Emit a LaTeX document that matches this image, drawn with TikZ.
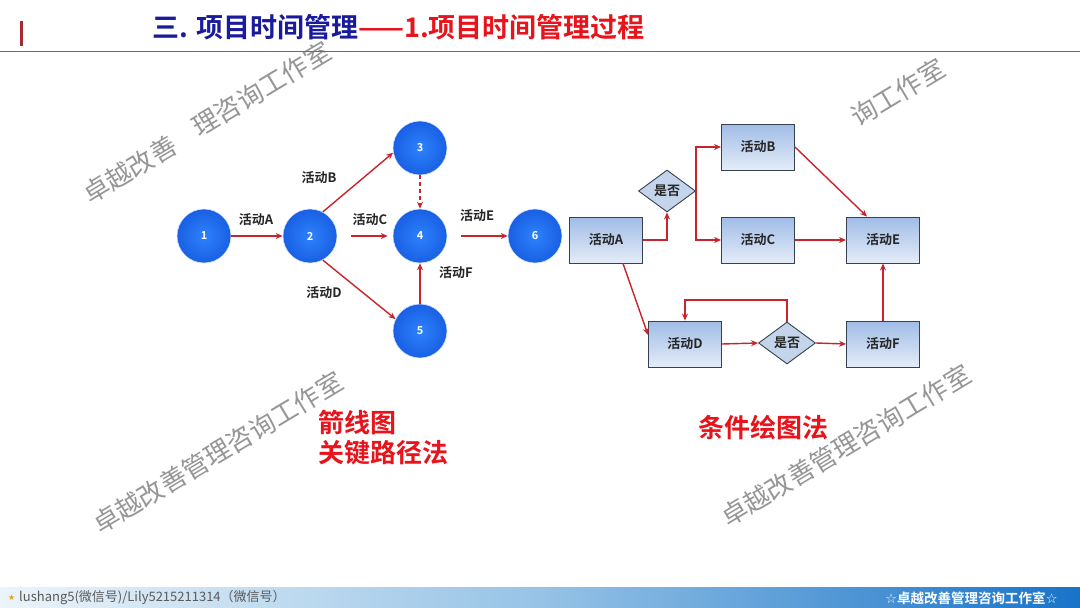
\documentclass[tikz,border=0pt]{standalone}
\usepackage{fontspec}
\setmainfont{Noto Sans CJK SC}[BoldFont={Noto Sans CJK SC Bold}]
\newfontfamily\symfont{DejaVu Sans}
\usetikzlibrary{arrows.meta,shapes.geometric}
\definecolor{titleblue}{RGB}{26,26,156}
\definecolor{titlered}{RGB}{232,20,28}
\definecolor{barred}{RGB}{170,40,50}
\definecolor{linered}{RGB}{170,80,80}
\definecolor{arrred}{RGB}{200,36,44}
\definecolor{circin}{RGB}{45,130,252}
\definecolor{circout}{RGB}{25,95,228}
\definecolor{boxtop}{RGB}{160,188,230}
\definecolor{boxbot}{RGB}{228,236,248}
\definecolor{boxline}{RGB}{55,65,80}
\definecolor{diamfill}{RGB}{196,212,234}
\definecolor{wmgray}{RGB}{150,150,150}
\definecolor{footl}{RGB}{236,244,250}
\definecolor{footm}{RGB}{150,195,230}
\definecolor{footr}{RGB}{25,115,200}
\definecolor{foottext}{RGB}{90,90,90}
\definecolor{starc}{RGB}{225,160,40}
\tikzset{
  ball/.style={circle, minimum size=54pt, inner sep=0pt, inner color=circin, outer color=circout,
    draw=white!80!circin, line width=0.6pt, text=white, font=\bfseries\fontsize{11}{12}\selectfont},
  lbl/.style={font=\bfseries\fontsize{13}{14}\selectfont, text=black!85, inner sep=0pt},
  arr/.style={draw=arrred, line width=1.4pt, -{Stealth[length=7pt,width=6pt]}},
  dasharr/.style={arr, dashed, dash pattern=on 4pt off 3pt},
  actbox/.style={rectangle, minimum width=73pt, minimum height=46pt, inner sep=0pt, draw=boxline,
    line width=0.9pt, top color=boxtop, bottom color=boxbot, font=\bfseries\fontsize{13}{14}\selectfont, text=black!85},
  decide/.style={diamond, minimum width=57pt, minimum height=42pt, inner sep=0pt, draw=boxline,
    line width=0.9pt, fill=diamfill, font=\bfseries\fontsize{13}{14}\selectfont, text=black!85},
  wm/.style={anchor=base west, rotate=31, inner sep=0pt, font=\fontsize{26}{28}\selectfont, text=wmgray},
  bigred/.style={anchor=base west, inner sep=0pt, font=\bfseries\fontsize{26}{28}\selectfont, text=titlered}
}
\begin{document}
\begin{tikzpicture}[x=1pt,y=-1pt]
\useasboundingbox (0,0) rectangle (1080,608);
\fill[white] (0,0) rectangle (1080,608);

% watermarks
\node[wm] (w1) at (90,205) {卓越改善};
\node[wm] (w1b) at (199.5,138) {理咨询工作室};
\node[wm] (w2) at (858,128) {询工作室};
\node[wm] (w3) at (100,535) {卓越改善管理咨询工作室};
\node[wm] (w4) at (728,528) {卓越改善管理咨询工作室};

% header
\fill[barred] (20,21) rectangle (23,46);
\draw[linered, line width=1pt] (0,51) -- (1080,51);
\node[anchor=base west, inner sep=0pt, font=\bfseries\fontsize{27}{29}\selectfont] (title) at (152,37)
  {\textcolor{titleblue}{三. 项目时间管理}\textcolor{titlered}{——1.项目时间管理过程}};

% arrow diagram
\node[ball] (n1) at (204,236) {1};
\node[ball] (n2) at (310,236) {2};
\node[ball] (n3) at (420,148) {3};
\node[ball] (n4) at (420,236) {4};
\node[ball] (n5) at (420,331) {5};
\node[ball] (n6) at (535,236) {6};

\draw[arr] (n1) -- (n2);
\draw[arr] (n2.62) -- (n3.190);
\draw[arr, shorten <=14pt, shorten >=5pt] (n2) -- (n4);
\draw[dasharr] (n3) -- (n4);
\draw[arr] (n2.298) -- (n5.154);
\draw[arr] (n5) -- (n4);
\draw[arr, shorten <=14pt] (n4) -- (n6);

\node[lbl] (la) at (256,220) {活动A};
\node[lbl] (lb) at (319,178) {活动B};
\node[lbl] (lc) at (370,220) {活动C};
\node[lbl] (ld) at (324,293) {活动D};
\node[lbl] (le) at (477,216) {活动E};
\node[lbl] (lf) at (456,273) {活动F};

\node[bigred] (t1) at (318,432) {箭线图};
\node[bigred] (t2) at (318,462) {关键路径法};

% condition diagram
\node[actbox] (A) at (606,240) {活动A};
\node[actbox] (B) at (758,147) {活动B};
\node[actbox] (C) at (758,240) {活动C};
\node[actbox] (E) at (883,240) {活动E};
\node[actbox] (D) at (685,344) {活动D};
\node[actbox] (F) at (883,344) {活动F};
\node[decide] (d1) at (667,191) {是否};
\node[decide] (d2) at (787,343) {是否};
\coordinate (lp) at (685,300);

\draw[arr] (A.east) -| (d1.south);
\draw[arr] (d1.east) |- (B.west);
\draw[arr] (d1.east) |- (C.west);
\draw[arr] (B.east) -- ([xshift=-16pt]E.north);
\draw[arr] (C.east) -- (E.west);
\draw[arr] ([xshift=17pt]A.south) -- ([yshift=9pt]D.west);
\draw[arr] (D.east) -- (d2.west);
\draw[arr] (d2.east) -- (F.west);
\draw[arr] (d2.north) |- (lp) -- (D.north);
\draw[arr] (F.north) -- (E.south);

\node[bigred] (t3) at (698,437) {条件绘图法};

% footer
\shade[left color=footl, right color=footm] (0,587) rectangle (540,608);
\shade[left color=footm, right color=footr] (540,587) rectangle (1080,608);
\node[anchor=west, inner sep=0pt, font=\fontsize{8}{9}\selectfont, text=starc] (st) at (8,598) {\symfont ★};
\node[anchor=west, inner sep=0pt, font=\fontsize{13}{14}\selectfont, text=foottext] (fl) at (19,598)
  {lushang5(微信号)/Lily5215211314（微信号）};
\node[anchor=east, inner sep=0pt, font=\bfseries\fontsize{13.5}{14}\selectfont, text=white] (fr) at (1058,598)
  {{\symfont ☆}卓越改善管理咨询工作室{\symfont ☆}};
\end{tikzpicture}
\end{document}
